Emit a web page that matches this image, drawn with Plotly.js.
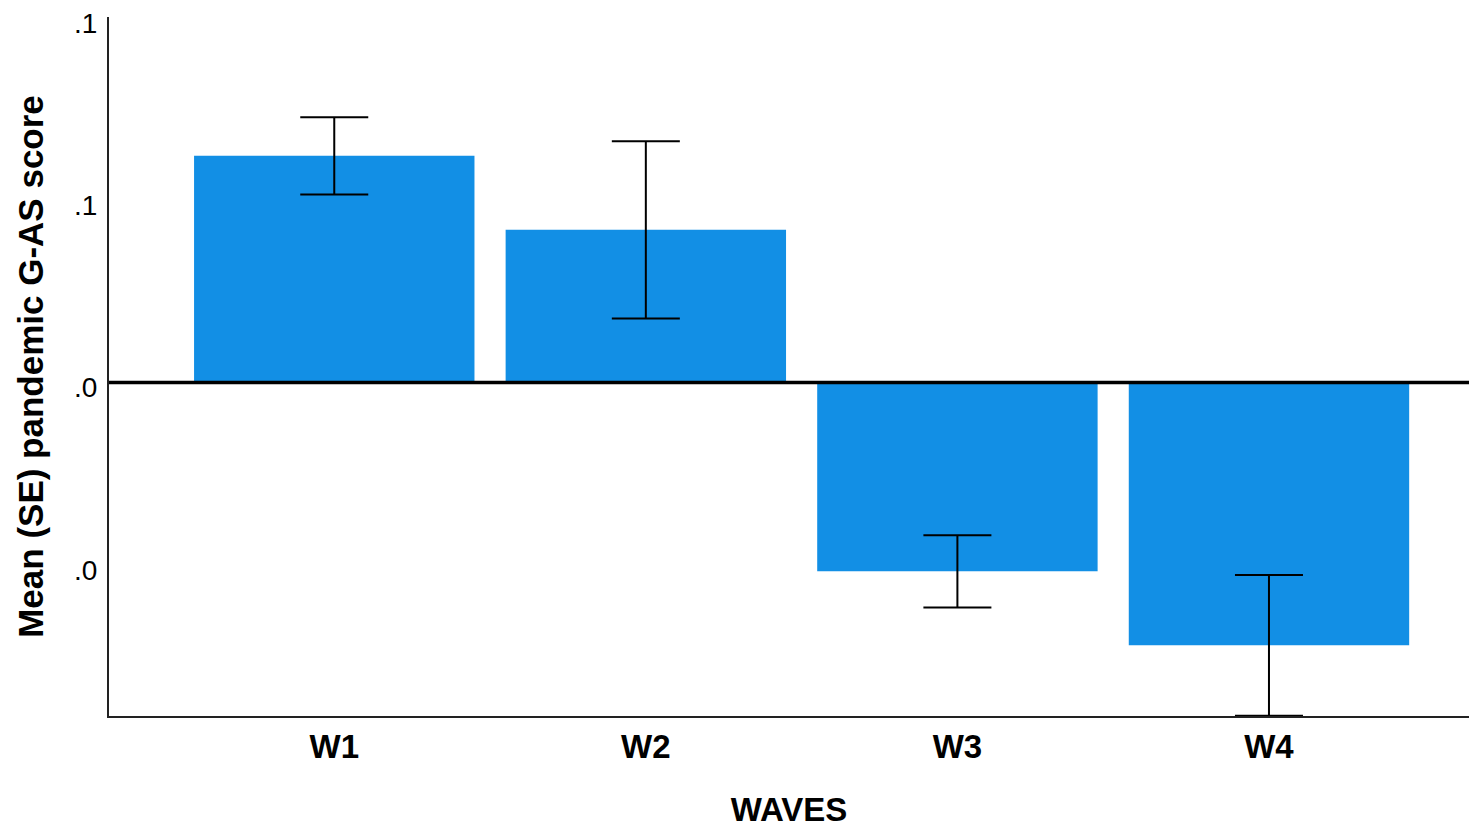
<!DOCTYPE html>
<html>
<head>
<meta charset="utf-8">
<script src="https://cdn.plot.ly/plotly-3.0.1.min.js"></script>
<style>
  html, body { margin: 0; padding: 0; background: #ffffff; }
  #chart { width: 1469px; height: 828px; }
</style>
</head>
<body>
<div id="chart"></div>
<script>
// Data
const waves = ['W1', 'W2', 'W3', 'W4'];
const meanScores = [0.0622, 0.0419, -0.0518, -0.0721];
const standardErrors = [0.0106, 0.0243, 0.0099, 0.0193];
const yTickValues = [0.10, 0.05, 0.00, -0.05];
const yTickLabels = ['.1', '.1', '.0', '.0'];

const FONT = 'Arial, "Liberation Sans", Helvetica, sans-serif';

const trace = {
  type: 'bar',
  x: waves,
  y: meanScores,
  marker: { color: '#128fe5', line: { width: 0 } },
  error_y: {
    type: 'data',
    array: standardErrors,
    visible: true,
    color: '#000000',
    thickness: 2,
    width: 34
  },
  hoverinfo: 'x+y'
};

const layout = {
  width: 1469,
  height: 828,
  margin: { l: 109, r: 0, t: 17, b: 112 },
  paper_bgcolor: '#ffffff',
  plot_bgcolor: '#ffffff',
  bargap: 0.1,
  showlegend: false,
  font: { family: FONT, color: '#000000' },
  xaxis: {
    type: 'category',
    range: [-0.723, 3.642],
    showgrid: false,
    zeroline: false,
    showline: true,
    linecolor: '#222222',
    linewidth: 2,
    ticks: '',
    tickfont: { family: FONT, size: 33, color: '#000000', weight: 'bold' },
    ticklabelstandoff: 0,
    title: {
      text: '<b>WAVES</b>',
      font: { family: FONT, size: 33, color: '#000000' },
      standoff: 41
    }
  },
  yaxis: {
    range: [-0.0915, 0.1003],
    showgrid: false,
    zeroline: false,
    showline: true,
    linecolor: '#222222',
    linewidth: 2,
    ticks: '',
    tickmode: 'array',
    tickvals: yTickValues,
    ticktext: yTickLabels,
    tickfont: { family: FONT, size: 28, color: '#000000' },
    ticklabelstandoff: 4,
    ticklabelshift: 5,
    title: {
      text: '<b>Mean (SE) pandemic G-AS score</b>',
      font: { family: FONT, size: 35, color: '#000000' },
      standoff: 20
    }
  },
  shapes: [{
    type: 'line',
    xref: 'paper', x0: 0, x1: 1,
    yref: 'y', y0: 0, y1: 0,
    line: { color: '#000000', width: 3.5 },
    layer: 'above'
  }]
};

Plotly.newPlot('chart', [trace], layout, { displayModeBar: false, responsive: false });
</script>
</body>
</html>
